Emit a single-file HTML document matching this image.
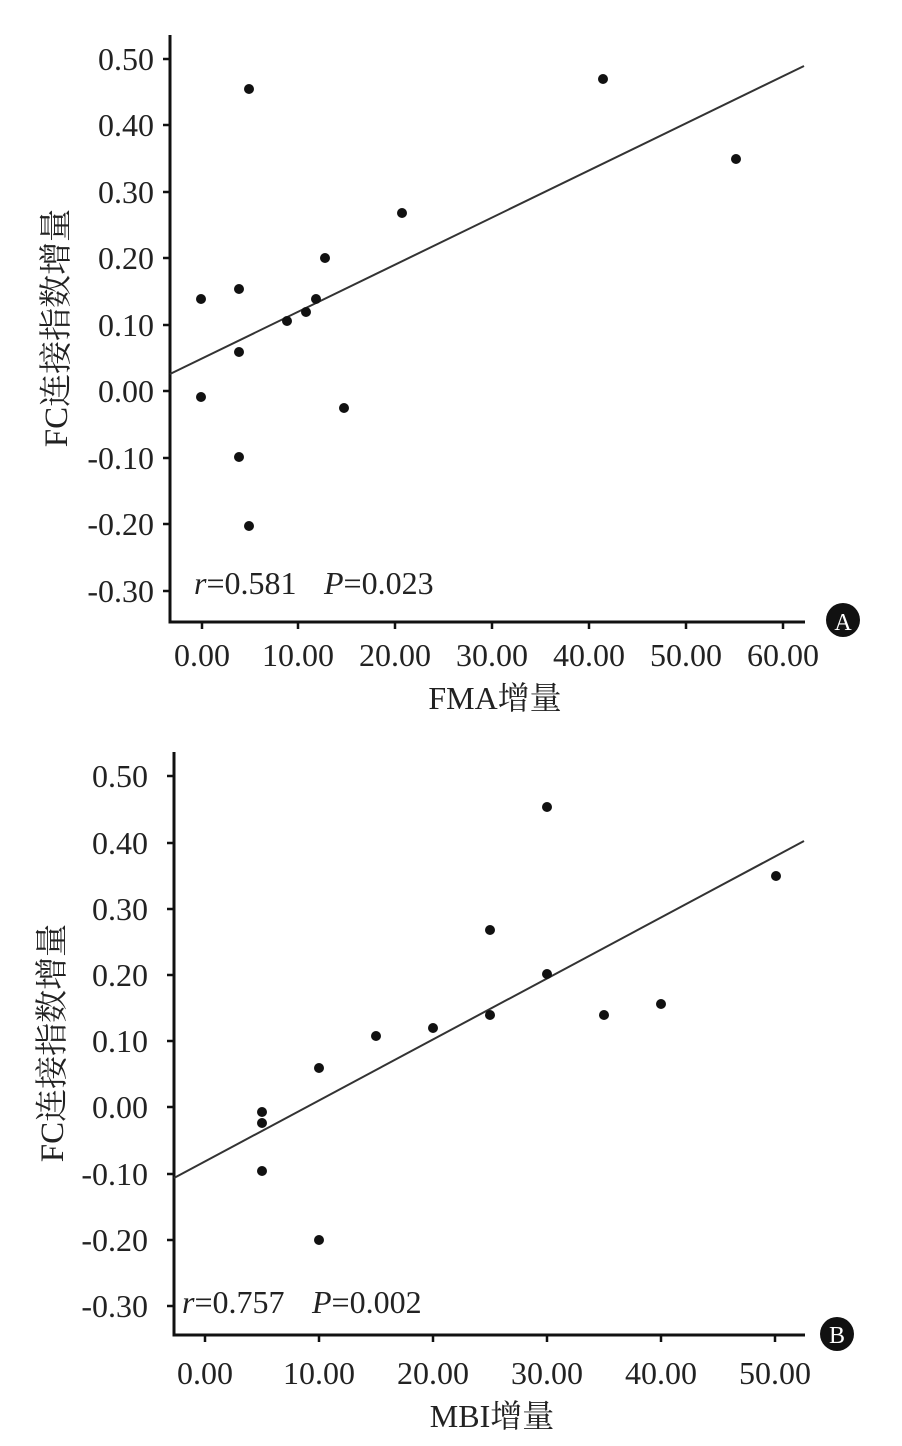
<!DOCTYPE html>
<html><head><meta charset="utf-8"><style>body{margin:0;background:#fff}svg{display:block}</style></head><body>
<svg width="902" height="1446" viewBox="0 0 902 1446" xmlns="http://www.w3.org/2000/svg" font-family="Liberation Serif, Noto Serif CJK SC, serif" fill="#222">
<!-- Chart A -->
<g stroke="#111" stroke-width="3" fill="none">
<path d="M170,35 V622 H805"/>
</g>
<g stroke="#111" stroke-width="2.5">
<path d="M163,59h7M163,125h7M163,192h7M163,258h7M163,325h7M163,391h7M163,458h7M163,524h7M163,591h7"/>
<path d="M202,622v7M298,622v7M395,622v7M492,622v7M589,622v7M686,622v7M783,622v7"/>
</g>
<g font-size="32" text-anchor="end">
<text x="154" y="70">0.50</text><text x="154" y="136">0.40</text><text x="154" y="203">0.30</text><text x="154" y="269">0.20</text><text x="154" y="336">0.10</text><text x="154" y="402">0.00</text><text x="154" y="469">-0.10</text><text x="154" y="535">-0.20</text><text x="154" y="602">-0.30</text>
</g>
<g font-size="32" text-anchor="middle">
<text x="202" y="666">0.00</text><text x="298" y="666">10.00</text><text x="395" y="666">20.00</text><text x="492" y="666">30.00</text><text x="589" y="666">40.00</text><text x="686" y="666">50.00</text><text x="783" y="666">60.00</text>
<text x="495" y="709">FMA增量</text>
</g>
<text font-size="33" text-anchor="middle" transform="translate(67,328) rotate(-90)">FC连接指数增量</text>
<text x="194" y="594" font-size="32"><tspan font-style="italic">r</tspan>=0.581</text>
<text x="324" y="594" font-size="32"><tspan font-style="italic">P</tspan>=0.023</text>
<line x1="170" y1="374" x2="804" y2="66" stroke="#333" stroke-width="2"/>
<g fill="#111">
<circle cx="249" cy="89" r="5"/><circle cx="603" cy="79" r="5"/><circle cx="736" cy="159" r="5"/><circle cx="402" cy="213" r="5"/><circle cx="325" cy="258" r="5"/><circle cx="201" cy="299" r="5"/><circle cx="239" cy="289" r="5"/><circle cx="316" cy="299" r="5"/><circle cx="306" cy="312" r="5"/><circle cx="287" cy="321" r="5"/><circle cx="239" cy="352" r="5"/><circle cx="201" cy="397" r="5"/><circle cx="344" cy="408" r="5"/><circle cx="239" cy="457" r="5"/><circle cx="249" cy="526" r="5"/>
</g>
<circle cx="843" cy="620" r="17" fill="#111"/><text x="843" y="630" font-size="24" fill="#fff" text-anchor="middle">A</text>
<!-- Chart B -->
<g stroke="#111" stroke-width="3" fill="none">
<path d="M174,752 V1335 H805"/>
</g>
<g stroke="#111" stroke-width="2.5">
<path d="M167,776h7M167,843h7M167,909h7M167,975h7M167,1041h7M167,1107h7M167,1174h7M167,1240h7M167,1306h7"/>
<path d="M205,1335v7M319,1335v7M433,1335v7M547,1335v7M661,1335v7M775,1335v7"/>
</g>
<g font-size="32" text-anchor="end">
<text x="148" y="787">0.50</text><text x="148" y="854">0.40</text><text x="148" y="920">0.30</text><text x="148" y="986">0.20</text><text x="148" y="1052">0.10</text><text x="148" y="1118">0.00</text><text x="148" y="1185">-0.10</text><text x="148" y="1251">-0.20</text><text x="148" y="1317">-0.30</text>
</g>
<g font-size="32" text-anchor="middle">
<text x="205" y="1384">0.00</text><text x="319" y="1384">10.00</text><text x="433" y="1384">20.00</text><text x="547" y="1384">30.00</text><text x="661" y="1384">40.00</text><text x="775" y="1384">50.00</text>
<text x="492" y="1427">MBI增量</text>
</g>
<text font-size="33" text-anchor="middle" transform="translate(63,1043) rotate(-90)">FC连接指数增量</text>
<text x="182" y="1313" font-size="32"><tspan font-style="italic">r</tspan>=0.757</text>
<text x="312" y="1313" font-size="32"><tspan font-style="italic">P</tspan>=0.002</text>
<line x1="174" y1="1178" x2="804" y2="841" stroke="#333" stroke-width="2"/>
<g fill="#111">
<circle cx="547" cy="807" r="5"/><circle cx="776" cy="876" r="5"/><circle cx="490" cy="930" r="5"/><circle cx="547" cy="974" r="5"/><circle cx="661" cy="1004" r="5"/><circle cx="490" cy="1015" r="5"/><circle cx="604" cy="1015" r="5"/><circle cx="433" cy="1028" r="5"/><circle cx="376" cy="1036" r="5"/><circle cx="319" cy="1068" r="5"/><circle cx="262" cy="1112" r="5"/><circle cx="262" cy="1123" r="5"/><circle cx="262" cy="1171" r="5"/><circle cx="319" cy="1240" r="5"/>
</g>
<circle cx="837" cy="1334" r="17" fill="#111"/><text x="837" y="1343" font-size="24" fill="#fff" text-anchor="middle">B</text>
</svg>
</body></html>
